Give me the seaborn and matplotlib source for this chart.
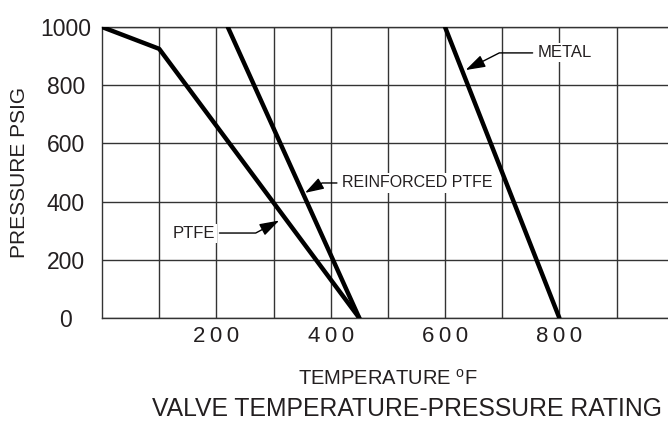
import numpy as np
import pandas as pd
import matplotlib
matplotlib.use("Agg")
import matplotlib.pyplot as plt
import seaborn as sns

# rating curves (temperature F, pressure psig)
ptfe_temp = [0, 100, 450]
ptfe_press = [1000, 925, 0]
rptfe_temp = [220, 450]
rptfe_press = [1000, 0]
metal_temp = [600, 800]
metal_press = [1000, 0]

x_grid = [100, 200, 300, 400, 500, 600, 700, 800, 900]
x_labels = ["", "200", "", "400", "", "600", "", "800", ""]
y_ticks = [0, 200, 400, 600, 800, 1000]

sns.set_style("white")
plt.rcParams["font.family"] = ["Liberation Sans", "DejaVu Sans"]
plt.rcParams["mathtext.fontset"] = "custom"
plt.rcParams["mathtext.rm"] = "Liberation Sans"
ink = "#231f20"

fig = plt.figure(figsize=(6.68, 4.24), dpi=100)
ax = fig.add_axes([102 / 668, 0.25, 1 - 102 / 668, 0.6863])

for t, p in [(ptfe_temp, ptfe_press), (rptfe_temp, rptfe_press), (metal_temp, metal_press)]:
    df = pd.DataFrame({"temp": t, "press": p})
    sns.lineplot(data=df, x="temp", y="press", sort=False, color="black",
                 linewidth=3.2, ax=ax, zorder=3)

ax.set_xlim(0, 990)
ax.set_ylim(0, 1000)
ax.set_xticks(x_grid)
ax.set_xticklabels(["\u2009".join(s) for s in x_labels], fontsize=16, color=ink)
ax.set_yticks(y_ticks)
ax.set_yticklabels([str(v) for v in y_ticks], fontsize=16.5, color=ink, ha="center")
ax.tick_params(axis="x", length=0, pad=6)
ax.tick_params(axis="y", length=0, pad=26)
ax.grid(True, color="#333333", linewidth=1.0)
ax.set_axisbelow(True)
for side in ["left", "bottom", "top"]:
    ax.spines[side].set_color("#333333")
    ax.spines[side].set_linewidth(1.0)
ax.spines["right"].set_visible(False)

ax.set_xlabel("TEMPERATURE $^{\\mathrm{o}}$F", fontsize=14.5, color=ink, va="center")
ax.xaxis.set_label_coords(0.505, -0.21)
ax.set_ylabel("PRESSURE PSIG", fontsize=15, color=ink, va="center")
ax.yaxis.set_label_coords(-0.145, 0.5)

arrow = dict(arrowstyle="-|>,head_length=1.0,head_width=0.32", color="black",
             linewidth=1.0, shrinkB=0)
box = dict(fc="white", ec="none", pad=1.5)
ax.annotate("PTFE", xy=(310, 335), xytext=(160, 292), fontsize=12, color=ink,
            ha="center", va="center", bbox=box,
            arrowprops=dict(arrow, connectionstyle="angle,angleA=0,angleB=28,rad=0"))
ax.annotate("REINFORCED PTFE", xy=(355, 430), xytext=(551, 464), fontsize=11.5,
            color=ink, ha="center", va="center", bbox=box,
            arrowprops=dict(arrow, connectionstyle="angle,angleA=0,angleB=30,rad=0"))
ax.annotate("METAL", xy=(636, 852), xytext=(809, 911), fontsize=12, color=ink,
            ha="center", va="center", bbox=box,
            arrowprops=dict(arrow, connectionstyle="angle,angleA=0,angleB=27,rad=0"))

fig.text(407 / 668, 1 - 409 / 424, "VALVE TEMPERATURE-PRESSURE RATING",
         fontsize=17.8, color=ink, ha="center", va="center")

fig.savefig("out.png", dpi=100)
